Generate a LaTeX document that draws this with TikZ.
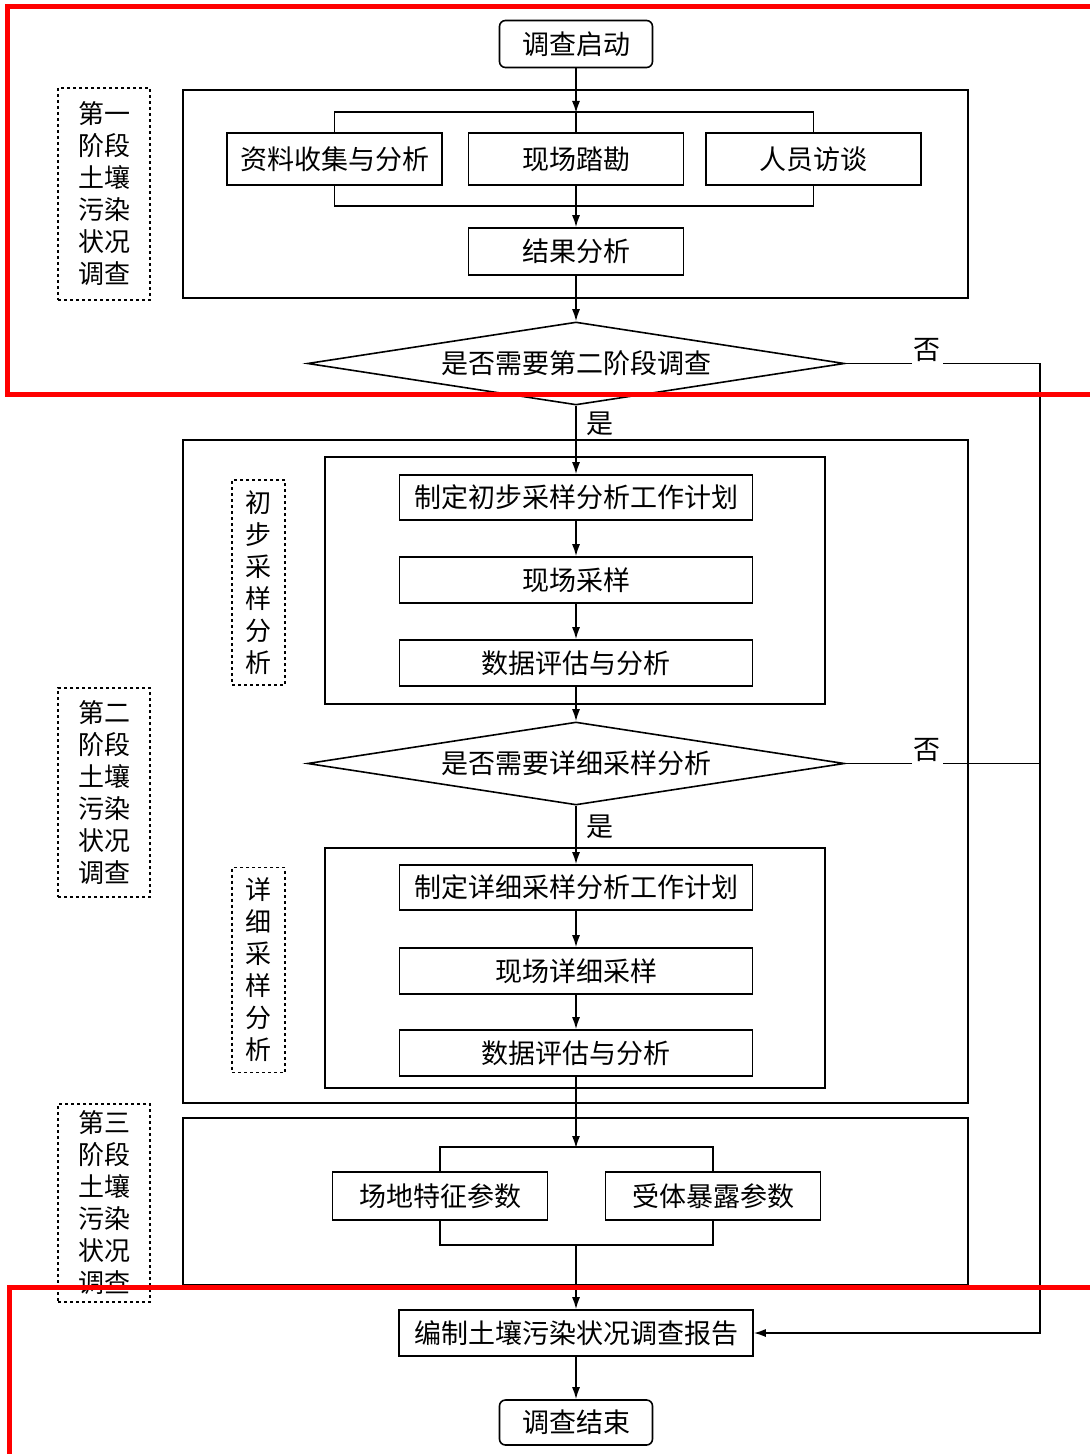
\documentclass[tikz,border=0pt]{standalone}
\usepackage{fontspec}
\setmainfont{Noto Sans CJK SC}
\usetikzlibrary{shapes.geometric,arrows.meta}

\begin{document}
\begin{tikzpicture}[x=0.5pt,y=-0.5pt,line width=0.8pt,
		>={Latex[length=6pt,width=4pt]},
		box/.style={draw, minimum width=176.5pt, minimum height=23pt, inner sep=0pt, font=\fontsize{13.5}{16}\selectfont},
		term/.style={box, rounded corners=3pt, minimum width=76.5pt, minimum height=23.5pt},
		decide/.style={draw, diamond, aspect=6.5, minimum width=268.5pt, minimum height=41.5pt, inner sep=0pt, font=\fontsize{13.5}{16}\selectfont},
		tag/.style={draw, dash pattern=on 1.5pt off 1.5pt, align=center, minimum width=46pt, inner sep=0pt, font=\fontsize{13}{16}\selectfont},
		sub/.style={tag, minimum width=26.5pt, minimum height=102.5pt},
		answer/.style={fill=white, inner sep=1pt, font=\fontsize{13.5}{16}\selectfont}]
		\useasboundingbox (0,0) rectangle (1089,1454);
		
		\node[term] (start) at (576,44) {调查启动};
		
		\draw (183,90) rectangle (968,298);
		\node[tag, minimum height=106pt] (stage1) at (104,194) {第一\\阶段\\土壤\\污染\\状况\\调查};
		
		\node[box, minimum width=107.5pt, minimum height=26pt] (collect) at (334.5,159) {资料收集与分析};
		\node[box, minimum width=107.5pt, minimum height=26pt] (visit) at (576,159) {现场踏勘};
		\node[box, minimum width=107.5pt, minimum height=26pt] (talk) at (813.5,159) {人员访谈};
		\node[box, minimum width=107.5pt, minimum height=23.5pt] (result) at (576,251.5) {结果分析};
		
		\coordinate (bus1) at (576,113);
		\draw[->] (start) -- (bus1);
		\draw (collect.north) -- ++(0,-20) -| (talk.north);
		\draw (bus1) -- (visit);
		\draw (collect.south) -- ++(0,20) -| (talk.south);
		\draw[->] (visit) -- (result);
		
		\node[decide] (need2) at (576,363.5) {是否需要第二阶段调查};
		\draw[->] (result) -- (need2);
		
		\draw (183,440) rectangle (968,1103);
		\node[tag, minimum height=104.5pt] (stage2) at (104,792.5) {第二\\阶段\\土壤\\污染\\状况\\调查};
		
		\draw (325,457) rectangle (825,704);
		\node[sub] (first) at (258.5,582.5) {初\\步\\采\\样\\分\\析};
		\node[box, minimum height=22.5pt] (plan1) at (576,497.5) {制定初步采样分析工作计划};
		\node[box] (sample1) at (576,580) {现场采样};
		\node[box] (eval1) at (576,663) {数据评估与分析};
		
		\draw[->] (need2) -- (plan1);
		\draw[->] (plan1) -- (sample1);
		\draw[->] (sample1) -- (eval1);
		
		\node[decide] (need3) at (576,763.5) {是否需要详细采样分析};
		\draw[->] (eval1) -- (need3);
		
		\draw (325,848) rectangle (825,1088);
		\node[sub] (detail) at (258.5,970) {详\\细\\采\\样\\分\\析};
		\node[box, minimum height=22.5pt] (plan2) at (576,887.5) {制定详细采样分析工作计划};
		\node[box] (sample2) at (576,971) {现场详细采样};
		\node[box] (eval2) at (576,1053) {数据评估与分析};
		
		\draw[->] (need3) -- (plan2);
		\draw[->] (plan2) -- (sample2);
		\draw[->] (sample2) -- (eval2);
		
		\draw (183,1118) rectangle (968,1285);
		\node[tag, minimum height=99pt] (stage3) at (104,1203) {第三\\阶段\\土壤\\污染\\状况\\调查};
		\node[box, minimum width=107.5pt, minimum height=24pt] (site) at (440,1196) {场地特征参数};
		\node[box, minimum width=107.5pt, minimum height=24pt] (expose) at (713,1196) {受体暴露参数};
		
		\coordinate (bus3) at (576,1148);
		\coordinate (bus4) at (576,1244);
		\draw[->] (eval2) -- (bus3);
		\draw (site.north) -- ++(0,-24) -| (expose.north);
		\draw (site.south) -- ++(0,24) -| (expose.south);
		
		\node[box, minimum width=177pt] (report) at (576,1333) {编制土壤污染状况调查报告};
		\node[term, minimum height=22.5pt] (stop) at (576,1422.5) {调查结束};
		\draw[->] (bus4) -- (report);
		\draw[->] (report) -- (stop);
		
		\coordinate (turn1) at (1040,363.5);
		\coordinate (turn2) at (1040,763.5);
		\coordinate (turn3) at (1040,1333);
		\draw[->] (need2.east) -- (turn1) -- (turn3) -- (report);
		\draw (need3.east) -- (turn2);
		
		\node[answer] (no1) at (927,350) {否};
		\node[answer] (no2) at (927,750) {否};
		\node[answer] (yes1) at (600,424) {是};
		\node[answer] (yes2) at (600,827) {是};
		
		\draw[red, line width=2.5pt] (7,7) rectangle (1100,395);
		\draw[red, line width=2.5pt] (9,1287) rectangle (1100,1470);
	\end{tikzpicture}
\end{document}
